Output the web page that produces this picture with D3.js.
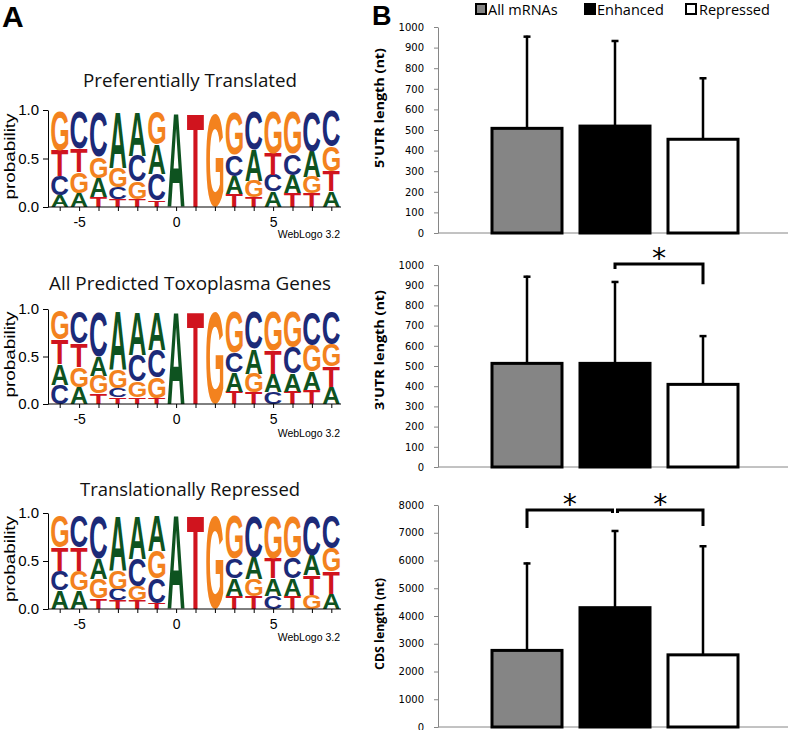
<!DOCTYPE html>
<html><head><meta charset="utf-8">
<script src="https://cdn.jsdelivr.net/npm/d3@7"></script>
<style>body{margin:0;background:#fff} svg{display:block}</style>
</head><body><svg id="fig" width="792" height="730"></svg>
<script>
// ---------------- DATA ----------------
const positions = [-6,-5,-4,-3,-2,-1,0,1,2,3,4,5,6,7,8];
const logoTitles = ["Preferentially Translated","All Predicted Toxoplasma Genes","Translationally Repressed"];
// each column: letters stacked bottom-to-top with probability heights
const logoPreferential = [
  [["A",.12],["C",.20],["T",.26],["G",.40]],
  [["A",.14],["G",.22],["T",.24],["C",.38]],
  [["T",.10],["A",.20],["G",.22],["C",.46]],
  [["T",.08],["C",.12],["G",.20],["A",.58]],
  [["T",.08],["G",.18],["C",.27],["A",.45]],
  [["T",.07],["C",.27],["A",.30],["G",.34]],
  [["A",.97]],
  [["T",.97]],
  [["G",.97]],
  [["T",.13],["A",.19],["C",.22],["G",.44]],
  [["T",.10],["G",.17],["A",.32],["C",.39]],
  [["A",.16],["C",.17],["T",.22],["G",.43]],
  [["T",.14],["A",.19],["C",.22],["G",.43]],
  [["T",.14],["G",.17],["A",.26],["C",.41]],
  [["A",.16],["T",.21],["G",.25],["C",.36]]
];
const logoAllGenes = [
  [["C",.20],["A",.22],["T",.26],["G",.30]],
  [["A",.18],["G",.21],["T",.25],["C",.33]],
  [["T",.11],["G",.19],["A",.20],["C",.47]],
  [["T",.07],["C",.10],["G",.19],["A",.61]],
  [["T",.07],["G",.17],["C",.28],["A",.45]],
  [["T",.06],["G",.22],["C",.29],["A",.40]],
  [["A",.97]],
  [["T",.97]],
  [["G",.97]],
  [["T",.13],["A",.20],["C",.21],["G",.43]],
  [["T",.12],["G",.20],["A",.26],["C",.39]],
  [["C",.13],["A",.19],["T",.24],["G",.41]],
  [["T",.13],["A",.19],["C",.28],["G",.37]],
  [["T",.15],["A",.19],["G",.28],["C",.35]],
  [["A",.18],["T",.22],["G",.23],["C",.34]]
];
const logoRepressed = [
  [["A",.19],["C",.21],["T",.24],["G",.33]],
  [["A",.19],["G",.21],["T",.24],["C",.33]],
  [["T",.11],["G",.20],["A",.21],["C",.44]],
  [["T",.09],["C",.12],["G",.19],["A",.57]],
  [["T",.09],["G",.15],["C",.28],["A",.45]],
  [["T",.06],["C",.26],["G",.28],["A",.37]],
  [["A",.97]],
  [["T",.97]],
  [["G",.97]],
  [["T",.14],["A",.18],["C",.20],["G",.45]],
  [["T",.13],["G",.18],["A",.23],["C",.43]],
  [["C",.14],["A",.18],["T",.21],["G",.44]],
  [["T",.14],["A",.18],["C",.22],["G",.43]],
  [["G",.15],["T",.20],["A",.21],["C",.41]],
  [["A",.16],["T",.23],["G",.24],["C",.34]]
];
const logoYTicks = [0, 0.5, 1.0];
const logoXLabels = [-5, 0, 5];

const series = ["All mRNAs","Enhanced","Repressed"];
const utr5Mean = [508, 519, 455];
const utr5Sd   = [450, 418, 301];
const utr3Mean = [513, 513, 409];
const utr3Sd   = [434, 408, 244];
const cdsMean  = [2760, 4300, 2600];
const cdsSd    = [3170, 2800, 3950];
const yTitles  = ["5'UTR length (nt)","3'UTR length (nt)","CDS length (nt)"];
const yMax     = [1000, 1000, 8000];
const yStep    = [100, 100, 1000];
// significance brackets: [fromBar, toBar, level, fromEnd, toEnd]
const utr5Brackets = [];
const utr3Brackets = [[1, 2, 1005, 980, 905]];
const cdsBrackets  = [[0, 1, 7820, 7170, 7710], [1, 2, 7820, 7710, 7240]];

// ---------------- STYLE / LAYOUT ----------------
const letterColor = {A:"#0e5320", C:"#1c2a78", G:"#f3821e", T:"#d0141e"};
const seriesFill = ["#858585","#000000","#ffffff"];
const svg = d3.select("#fig");
const ctx = document.createElement("canvas").getContext("2d");
function ink(text, font){ ctx.font = font; const m = ctx.measureText(text);
  return {L:m.actualBoundingBoxLeft, R:m.actualBoundingBoxRight, A:m.actualBoundingBoxAscent, D:m.actualBoundingBoxDescent}; }

const LF = "Liberation Sans";
const baseInk = {};
["A","C","G","T"].forEach(l => baseInk[l] = ink(l, `bold 100px "${LF}"`));

// panel letters
svg.append("text").attr("x",2).attr("y",27).attr("font-family",LF).attr("font-weight","bold").attr("font-size",30).text("A");
svg.append("text").attr("x",372).attr("y",25).attr("font-family",LF).attr("font-weight","bold").attr("font-size",27).text("B");

// ---------------- LOGOS ----------------
const logoLayout = [
  {y0:207, y1:110, title:87,  titleW:214, wl:238},
  {y0:404, y1:309, title:290, titleW:282, wl:437},
  {y0:609, y1:513, title:496, titleW:220, wl:641}
];
const logoData = [logoPreferential, logoAllGenes, logoRepressed];

logoData.forEach((data, k) => {
  const lay = logoLayout[k];
  const g = svg.append("g");
  const x = d3.scaleLinear().domain([-6.5, 8.5]).range([50, 341]);
  const y = d3.scaleLinear().domain([0, 1]).range([lay.y0, lay.y1]);
  const colW = x(1) - x(0), lw = colW * 0.88;
  data.forEach((col, i) => {
    const pos = positions[i]; let cum = 0;
    col.forEach(([letter, p]) => {
      const yb = y(cum), yt = y(cum + p); cum += p;
      const b = baseInk[letter];
      const sx = lw / (b.L + b.R), sy = (yb - yt) / (b.A + b.D);
      g.append("text")
        .attr("transform", `translate(${x(pos) - lw/2},${yt}) scale(${sx},${sy}) translate(${b.L},${b.A})`)
        .attr("font-family", LF).attr("font-weight", "bold").attr("font-size", 100)
        .attr("fill", letterColor[letter]).text(letter);
    });
  });
  // y axis
  const ya = g.append("g").attr("transform", "translate(48,0)")
    .call(d3.axisLeft(y).tickValues(logoYTicks).tickFormat(d3.format(".1f")).tickSize(5).tickSizeOuter(0).tickPadding(4));
  ya.selectAll("text").attr("font-family", LF).attr("font-size", 15).attr("fill", "#000");
  ya.select(".domain").attr("stroke", "#000");
  // x axis
  const xa = g.append("g").attr("transform", `translate(0,${lay.y0})`)
    .call(d3.axisBottom(x).tickValues(positions).tickSize(4).tickPadding(6)
      .tickFormat(d => logoXLabels.includes(d) ? String(d) : ""));
  xa.select(".domain").remove();
  xa.selectAll("text").attr("font-family", LF).attr("font-size", 14).attr("fill", "#000");
  g.append("line").attr("x1", 48).attr("x2", 341).attr("y1", lay.y0).attr("y2", lay.y0).attr("stroke", "#000");
  // labels
  g.append("text").attr("transform", `translate(15,${(lay.y0 + lay.y1)/2 - 2}) rotate(-90)`)
    .attr("text-anchor", "middle").attr("font-family", LF).attr("font-size", 15)
    .attr("textLength", 86).attr("lengthAdjust", "spacingAndGlyphs").text("probability");
  g.append("text").attr("x", 190).attr("y", lay.title).attr("text-anchor", "middle")
    .attr("font-family", "Open Sans").attr("font-size", 17.5).attr("fill", "#111")
    .attr("textLength", lay.titleW).attr("lengthAdjust", "spacingAndGlyphs").text(logoTitles[k]);
  g.append("text").attr("x", 340).attr("y", lay.wl).attr("text-anchor", "end")
    .attr("font-family", LF).attr("font-size", 10.5).text("WebLogo 3.2");
});

// ---------------- BAR CHARTS ----------------
const barLayout = [{top:27, bottom:233}, {top:265, bottom:467}, {top:505, bottom:727}];
const barMeans = [utr5Mean, utr3Mean, cdsMean];
const barSds = [utr5Sd, utr3Sd, cdsSd];
const barBrackets = [utr5Brackets, utr3Brackets, cdsBrackets];
const AX = 438, AXR = 788;
const xb = d3.scaleBand().domain(series).range([483, 747]).paddingInner(0.2045).paddingOuter(0.10225);
const starInk = ink("*", `100px "DejaVu Sans"`);
const starFs = 100 * 13 / (starInk.L + starInk.R);

barMeans.forEach((means, k) => {
  const lay = barLayout[k];
  const g = svg.append("g");
  const y = d3.scaleLinear().domain([0, yMax[k]]).range([lay.bottom, lay.top]);
  const ya = g.append("g").attr("transform", `translate(${AX},0)`)
    .call(d3.axisLeft(y).tickValues(d3.range(0, yMax[k] + 1, yStep[k])).tickFormat(d3.format("d"))
      .tickSize(4).tickSizeOuter(0).tickPadding(10));
  ya.select(".domain").attr("stroke", "#868686");
  ya.selectAll(".tick line").attr("stroke", "#868686");
  ya.selectAll("text").attr("font-family", "DejaVu Sans").attr("font-size", 10).attr("fill", "#000");
  g.append("line").attr("x1", AX).attr("x2", AXR).attr("y1", y(0)).attr("y2", y(0)).attr("stroke", "#868686");
  // error bars
  series.forEach((s, i) => {
    const cx = xb(s) + xb.bandwidth()/2;
    const top = y(means[i] + barSds[k][i]);
    g.append("line").attr("x1", cx).attr("x2", cx).attr("y1", y(means[i])).attr("y2", top)
      .attr("stroke", "#000").attr("stroke-width", 2.5);
    g.append("line").attr("x1", cx - 3.5).attr("x2", cx + 3.5).attr("y1", top + 1).attr("y2", top + 1)
      .attr("stroke", "#000").attr("stroke-width", 2.5);
  });
  // bars
  g.selectAll("rect.bar").data(means).enter().append("rect")
    .attr("x", (d, i) => xb(series[i])).attr("width", xb.bandwidth())
    .attr("y", d => y(d)).attr("height", d => y(0) - y(d))
    .attr("fill", (d, i) => seriesFill[i]).attr("stroke", "#000").attr("stroke-width", 3);
  // y title
  const tlen = k === 2 ? 92 : 120;
  const tcy = [108, 350, 624][k];
  g.append("text").attr("transform", `translate(384,${tcy}) rotate(-90)`)
    .attr("text-anchor", "middle").attr("font-family", "Open Sans").attr("font-weight", "bold")
    .attr("font-size", 12.5).attr("textLength", tlen).attr("lengthAdjust", "spacingAndGlyphs").text(yTitles[k]);
  // brackets
  const br = barBrackets[k];
  br.forEach(([a, b, lvl, ea, eb]) => {
    const shared = i => br.filter(q => q[0] === i || q[1] === i).length > 1;
    const xa = xb(series[a]) + xb.bandwidth()/2 + (shared(a) ? 2.5 : 0);
    const xbb = xb(series[b]) + xb.bandwidth()/2 - (shared(b) ? 2.5 : 0);
    g.append("path").attr("d", `M${xa},${y(ea)}V${y(lvl)}H${xbb}V${y(eb)}`)
      .attr("fill", "none").attr("stroke", "#000").attr("stroke-width", 3);
    const cx = (xa + xbb)/2, cy = y(lvl) - 11;
    const si = { L: starInk.L*starFs/100, R: starInk.R*starFs/100, A: starInk.A*starFs/100, D: starInk.D*starFs/100 };
    g.append("text").attr("x", cx - (si.R - si.L)/2).attr("y", cy + (si.A - si.D)/2)
      .attr("font-family", "DejaVu Sans").attr("font-size", starFs).text("*");
  });
});

// legend
const legX = [475, 584, 685], legTX = [488, 597, 699];
series.forEach((s, i) => {
  svg.append("rect").attr("x", legX[i] + 1).attr("y", 4).attr("width", 10).attr("height", 10)
    .attr("fill", seriesFill[i]).attr("stroke", "#000").attr("stroke-width", 2);
  svg.append("text").attr("x", legTX[i]).attr("y", 14.5).attr("font-family", "Open Sans")
    .attr("font-size", 14.5).text(s);
});
</script></body></html>
